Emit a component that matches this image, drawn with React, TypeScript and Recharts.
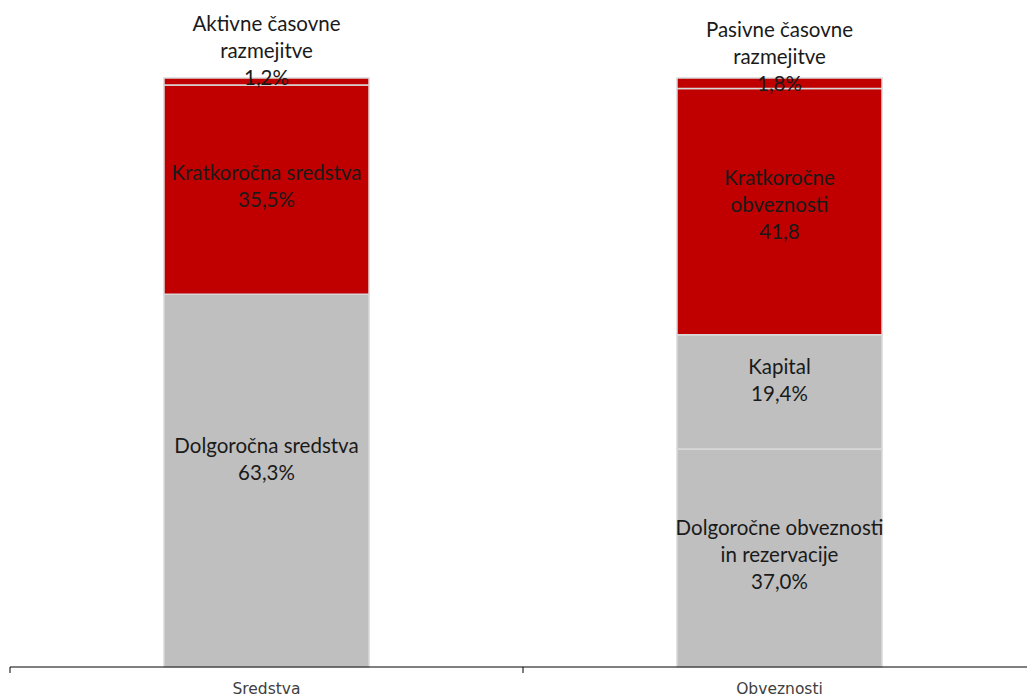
import React from 'react';
import { BarChart, Bar, XAxis, YAxis, Cell, LabelList } from 'recharts';

const categories = ['Sredstva', 'Obveznosti'];
const segmentKeys = ['s1', 's2', 's3', 's4'];

const sredstvaValues = [63.3, 35.5, 1.2];
const obveznostiValues = [37.0, 19.4, 41.8, 1.8];

const sredstvaNames = ['Dolgoročna sredstva', 'Kratkoročna sredstva', 'Aktivne časovne\nrazmejitve'];
const obveznostiNames = ['Dolgoročne obveznosti\nin rezervacije', 'Kapital', 'Kratkoročne\nobveznosti', 'Pasivne časovne\nrazmejitve'];

const sredstvaLabels = ['63,3%', '35,5%', '1,2%'];
const obveznostiLabels = ['37,0%', '19,4%', '41,8', '1,8%'];

const RED = '#c00000';
const GRAY = '#bfbfbf';
const sredstvaColors = [GRAY, RED, RED];
const obveznostiColors = [GRAY, GRAY, RED, RED];
// small vertical nudges of the in-bar labels (px), like in the original sheet
const sredstvaShift = [-22, -4, -5];
const obveznostiShift = [-4, -12, -8, 0];

const valuesByCat = [sredstvaValues, obveznostiValues];
const namesByCat = [sredstvaNames, obveznostiNames];
const labelsByCat = [sredstvaLabels, obveznostiLabels];
const colorsByCat = [sredstvaColors, obveznostiColors];
const shiftByCat = [sredstvaShift, obveznostiShift];

const data = categories.map((name, i) => {
  const row: Record<string, any> = { name };
  segmentKeys.forEach((k, j) => {
    row[k] = valuesByCat[i][j] ?? 0;
  });
  return row;
});

const CHART_W = 1036;
const CHART_H = 698;
const MARGIN_LEFT = 10;
const X_AXIS_H = 31;
const AXIS_Y = CHART_H - X_AXIS_H;
const BAND_HALF = (CHART_W - MARGIN_LEFT) / categories.length / 2;
const LINE_H = 27;

const LABEL_FONT = 'Lato, Carlito, Calibri, sans-serif';

const makeLabel = (seg: number) => (props: any) => {
  const v = props.viewBox || {};
  const x = props.x ?? v.x;
  const y = props.y ?? v.y;
  const width = props.width ?? v.width;
  const height = props.height ?? v.height;
  if (x == null || width == null) return null;
  const cx = x + width / 2;
  // zero-height bars may be skipped, so find the category from the position
  const cat = Math.min(categories.length - 1, Math.max(0, Math.floor((cx - MARGIN_LEFT) / (2 * BAND_HALF))));
  const name = namesByCat[cat][seg];
  if (!name || !valuesByCat[cat][seg]) return null;
  const lines = [...name.split('\n'), labelsByCat[cat][seg]];
  let firstY: number;
  if (Math.abs(height) < 20) {
    // thin segment: label stacked above the bar, last line on the segment
    const lastY = y + height / 2 + shiftByCat[cat][seg];
    firstY = lastY - (lines.length - 1) * LINE_H;
  } else {
    const cy = y + height / 2 + shiftByCat[cat][seg];
    firstY = cy - ((lines.length - 1) * LINE_H) / 2;
  }
  return (
    <text
      key={`lbl-${seg}-${cat}`}
      x={cx}
      textAnchor="middle"
      dominantBaseline="central"
      fontFamily={LABEL_FONT}
      fontSize={20.5}
      fill="#1a1a1a"
    >
      {lines.map((line, li) => (
        <tspan key={li} x={cx} y={firstY + li * LINE_H}>
          {line}
        </tspan>
      ))}
    </text>
  );
};

const CategoryTick = (props: any) => {
  const { x, payload } = props;
  return (
    <g>
      <line x1={x - BAND_HALF} x2={x - BAND_HALF} y1={AXIS_Y} y2={AXIS_Y + 6} stroke="#000" strokeWidth={1} />
      <text
        x={x}
        y={AXIS_Y + 27}
        textAnchor="middle"
        fontFamily="'DejaVu Sans', Verdana, sans-serif"
        fontSize={15.5}
        fill="#404040"
      >
        {payload.value}
      </text>
    </g>
  );
};

export default function App() {
  return (
    <div
      style={{
        position: 'fixed',
        left: 0,
        top: 0,
        width: 1027,
        height: 698,
        overflow: 'hidden',
        background: '#fff',
      }}
    >
      <BarChart
        width={CHART_W}
        height={CHART_H}
        data={data}
        margin={{ top: 78, right: 0, left: MARGIN_LEFT, bottom: 0 }}
        barSize={205}
      >
        <XAxis
          dataKey="name"
          height={X_AXIS_H}
          axisLine={{ stroke: '#000', strokeWidth: 1 }}
          tickLine={false}
          tick={<CategoryTick />}
          interval={0}
        />
        <YAxis hide domain={[0, 100]} />
        {segmentKeys.map((k, seg) => (
          <Bar
            key={k}
            dataKey={k}
            stackId="a"
            stroke="#d9d9d9"
            strokeWidth={1.5}
            isAnimationActive={false}
          >
            {data.map((_, i) => (
              <Cell key={i} fill={colorsByCat[i][seg] || GRAY} />
            ))}
            <LabelList content={makeLabel(seg)} />
          </Bar>
        ))}
      </BarChart>
    </div>
  );
}
